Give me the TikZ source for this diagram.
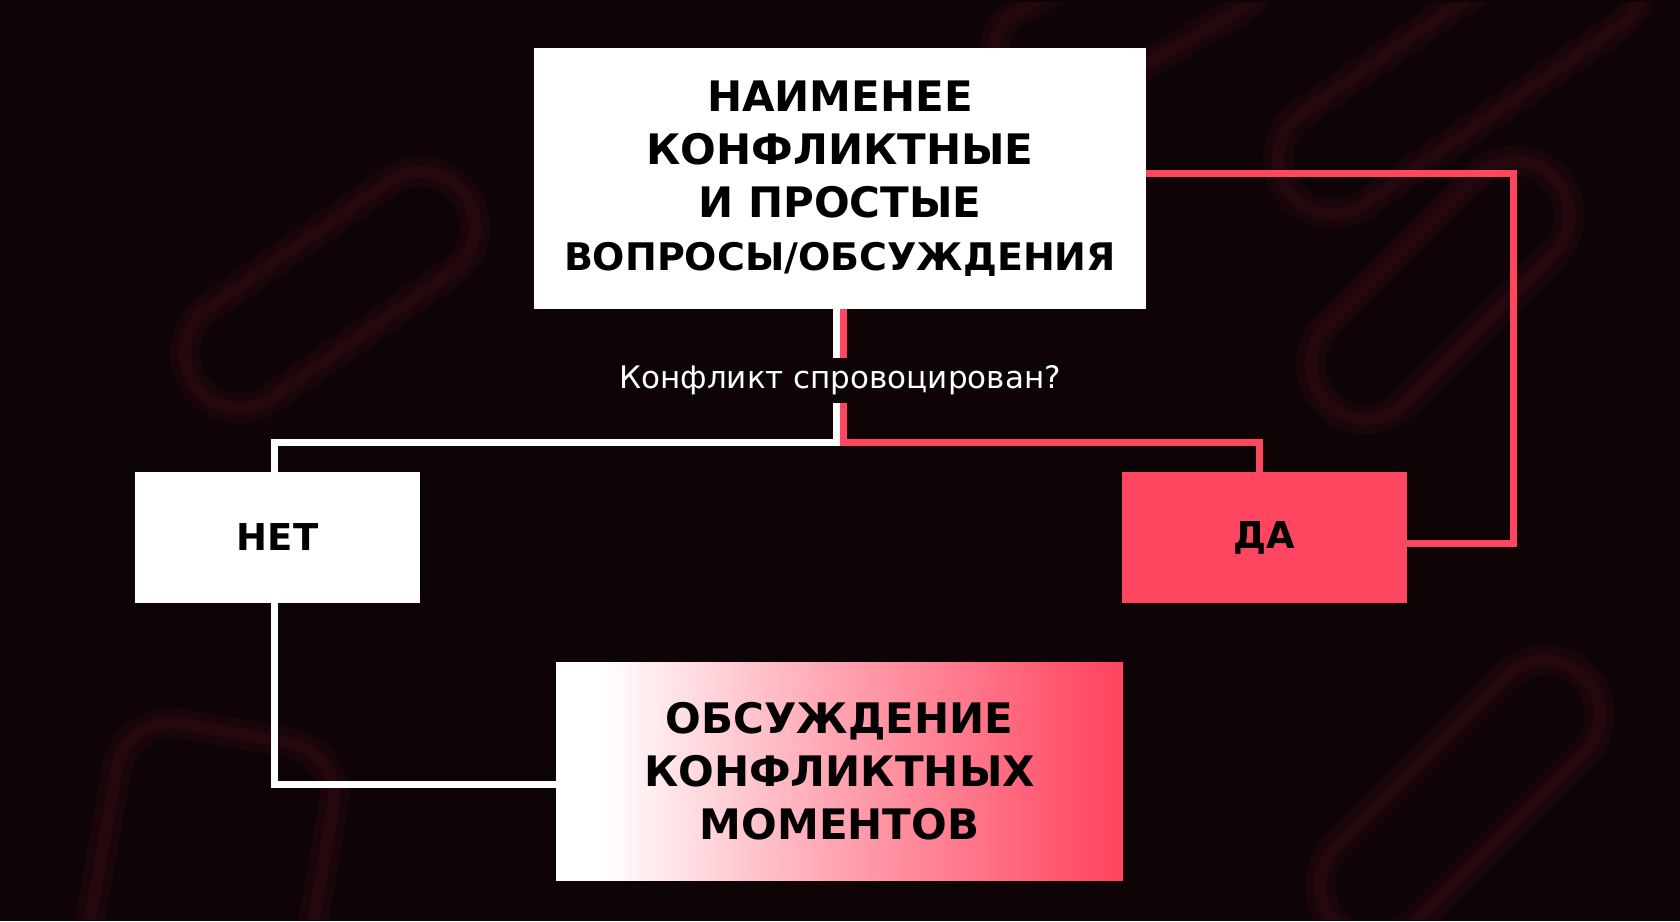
\documentclass[tikz,border=0pt]{standalone}
\usepackage{fontspec}
\setmainfont{DejaVu Sans}
\usepackage{tikz}
\usetikzlibrary{
    arrows.meta,
    positioning,
    calc
}
\definecolor{bgdark}{RGB}{14,4,6}
\definecolor{coral}{RGB}{255,70,96}
\definecolor{clipglow}{RGB}{36,8,14}
\pgfdeclarehorizontalshading{pinkfade}{100bp}{%
  color(0bp)=(white); color(29bp)=(white);
  color(50bp)=(coral!50!white); color(74bp)=(coral); color(100bp)=(coral)}
\tikzset{
  card/.style    = {fill=white, inner sep=0pt, align=center,
                    text=black, font=\fontsize{42}{53}\selectfont\bfseries},
  cardred/.style = {card, fill=coral},
  wline/.style   = {white, line width=7pt},
  rline/.style   = {coral, line width=7pt},
  pill/.style    = {clipglow, line width=12pt, rounded corners=55pt,
                    preaction={draw=clipglow!55!bgdark, line width=30pt}}
}

\begin{document}
\begin{tikzpicture}[
  x=1pt, y=-1pt,
  ask/.style={inner sep=0pt, minimum height=45pt, text=white,
    font=\fontsize{31}{36}\selectfont},
  answer/.style={minimum width=285pt, minimum height=131pt,
    font=\fontsize{37}{44}\selectfont\bfseries}
]

%% Background
\useasboundingbox (0,0) rectangle (1680,921);
\fill[bgdark] (0,0) rectangle (1680,921);

%% Faint paper clips
\begin{scope}
  \clip (2,2) rectangle (1678,919);
  \draw[pill, rotate around={35:(330,290)}] (165,235) rectangle (495,345);
  \draw[pill, rotate around={30:(1130,10)}] (980,-45) rectangle (1280,65);
  \draw[pill, rotate around={35:(1460,70)}] (1250,15) rectangle (1670,125);
  \draw[pill, rotate around={45:(1440,290)}] (1280,235) rectangle (1600,345);
  \draw[pill, rotate around={80:(200,930)}] (0,820) rectangle (400,1040);
  \draw[pill, rotate around={45:(1460,800)}] (1285,745) rectangle (1635,855);
\end{scope}

%% Nodes
\node[card, minimum width=612pt, minimum height=261pt] (top) at (840,178.5)
  {НАИМЕНЕЕ\\КОНФЛИКТНЫЕ\\И ПРОСТЫЕ\\%
   \fontsize{38}{53}\selectfont ВОПРОСЫ/ОБСУЖДЕНИЯ};
\node[ask] (q) at (840,380.5) {Конфликт спровоцирован?};
\coordinate (bus) at (840,442.5);
\node[card, answer] (net) at (277.5,537.5) {НЕТ};
\node[cardred, answer] (da) at (1264.5,537.5) {ДА};
\node[card, shading=pinkfade, minimum width=567pt, minimum height=218pt]
  (talk) at (839.5,771) {ОБСУЖДЕНИЕ\\КОНФЛИКТНЫХ\\МОМЕНТОВ};

%% Stem under the first box
\draw[wline] ([xshift=-3.5pt]top.south) -- ([xshift=-3.5pt]q.north);
\draw[rline] ([xshift=3.5pt]top.south) -- ([xshift=3.5pt]q.north);

%% Branches
\draw[wline] ([xshift=-3.5pt]q.south) -- ([xshift=-3.5pt]bus)
  -| ([xshift=-3pt]net.north);
\draw[rline] ([xshift=3.5pt]q.south) -- ([xshift=3.5pt]bus)
  -| ([xshift=-5pt]da.north);

%% Loop back from ДА
\draw[rline] ([yshift=5.5pt]top.east)
  -| ([xshift=106pt, yshift=-5.5pt]da.east) -- ([yshift=-5.5pt]da.east);

%% НЕТ leads to the discussion
\draw[wline] ([xshift=-3pt]net.south) |- ([yshift=-13pt]talk.west);

\end{tikzpicture}
\end{document}
